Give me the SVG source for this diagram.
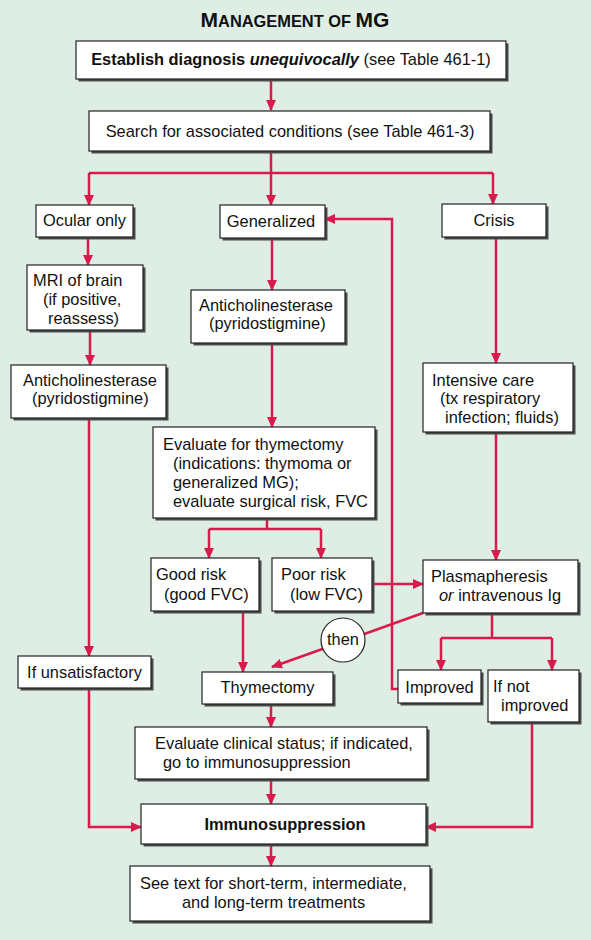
<svg xmlns="http://www.w3.org/2000/svg" width="591" height="940" viewBox="0 0 591 940">
<defs>
<style>
text{font-family:"Liberation Sans",Arial,sans-serif;font-size:16.4px;fill:#111}
.b{font-weight:bold}
.i{font-style:italic}
.m{text-anchor:middle}
.box{fill:#fff;stroke:#222;stroke-width:1.2}
.sh{fill:#4a4a4a}
.c{fill:none;stroke:#d91a4c;stroke-width:2.5}
.a{marker-end:url(#ah)}
</style>
<marker id="ah" markerUnits="userSpaceOnUse" markerWidth="11" markerHeight="10" refX="10" refY="5" orient="auto">
<path d="M0,0 L11,5 L0,10 Z" fill="#d91a4c"/>
</marker>
</defs>
<rect x="0" y="0" width="591" height="940" fill="#dfeee5"/>
<text class="b m" x="295" y="27"><tspan font-size="21">M</tspan><tspan font-size="16.4">ANAGEMENT OF </tspan><tspan font-size="21">MG</tspan></text>

<g id="connectors">
<path class="c a" d="M271,79 V110"/>
<path class="c" d="M271,151 V173 M89,173 H493"/>
<path class="c a" d="M89,173 V205"/>
<path class="c a" d="M271,173 V205"/>
<path class="c a" d="M493,173 V204"/>
<path class="c a" d="M88,237 V265"/>
<path class="c a" d="M90,330 V365"/>
<path class="c a" d="M272,238 V290"/>
<path class="c a" d="M272,343 V427"/>
<path class="c" d="M267,518 V529 M209,529 H321"/>
<path class="c a" d="M209,529 V558"/>
<path class="c a" d="M321,529 V558"/>
<path class="c a" d="M496,237 V363"/>
<path class="c a" d="M496,432 V560"/>
<path class="c a" d="M372,584 H423"/>
<path class="c" d="M492,613 V638 M441,638 H552"/>
<path class="c a" d="M441,638 V670"/>
<path class="c a" d="M552,638 V670"/>
<path class="c a" d="M398,689 H392 V219 H325"/>
<path class="c a" d="M423,613 L272,667"/>
<path class="c a" d="M243,611 V672"/>
<path class="c a" d="M89,418 V656"/>
<path class="c a" d="M271,704 V727"/>
<path class="c a" d="M271,779 V804"/>
<path class="c a" d="M89,688 V827 H141"/>
<path class="c a" d="M532,722 V827 H426"/>
<path class="c a" d="M271,844 V866"/>
</g>

<g id="n_establish">
<rect class="sh" x="78.5" y="43.5" width="430" height="38"/>
<rect class="box" x="76" y="41" width="430" height="38"/>
<text class="m" x="291" y="65"><tspan class="b">Establish diagnosis </tspan><tspan class="b i">unequivocally</tspan> (see Table 461-1)</text>
</g>
<g id="n_search">
<rect class="sh" x="91.5" y="113.5" width="401" height="40"/>
<rect class="box" x="89" y="111" width="401" height="40"/>
<text class="m" x="290" y="137">Search for associated conditions (see Table 461-3)</text>
</g>
<g id="n_ocular">
<rect class="sh" x="38.5" y="207.5" width="97" height="32"/>
<rect class="box" x="36" y="205" width="97" height="32"/>
<text class="m" x="84.5" y="226">Ocular only</text>
</g>
<g id="n_generalized">
<rect class="sh" x="222.5" y="207.5" width="105" height="33"/>
<rect class="box" x="220" y="205" width="105" height="33"/>
<text class="m" x="271" y="227">Generalized</text>
</g>
<g id="n_crisis">
<rect class="sh" x="444.5" y="206.5" width="104" height="33"/>
<rect class="box" x="442" y="204" width="104" height="33"/>
<text class="m" x="494" y="226">Crisis</text>
</g>
<g id="n_mri">
<rect class="sh" x="29.5" y="267.5" width="116" height="65"/>
<rect class="box" x="27" y="265" width="116" height="65"/>
<text x="33" y="286">MRI of brain</text>
<text x="43" y="305">(if positive,</text>
<text x="48" y="324">reassess)</text>
</g>
<g id="n_anti_left">
<rect class="sh" x="13.5" y="367.5" width="155" height="53"/>
<rect class="box" x="11" y="365" width="155" height="53"/>
<text x="23" y="386">Anticholinesterase</text>
<text x="32" y="404">(pyridostigmine)</text>
</g>
<g id="n_anti_mid">
<rect class="sh" x="193.5" y="292.5" width="154" height="53"/>
<rect class="box" x="191" y="290" width="154" height="53"/>
<text x="199" y="311">Anticholinesterase</text>
<text x="209" y="329">(pyridostigmine)</text>
</g>
<g id="n_icu">
<rect class="sh" x="425.5" y="365.5" width="150" height="69"/>
<rect class="box" x="423" y="363" width="150" height="69"/>
<text x="432" y="386">Intensive care</text>
<text x="440" y="404">(tx respiratory</text>
<text x="445" y="423">infection; fluids)</text>
</g>
<g id="n_evalthy">
<rect class="sh" x="155.5" y="429.5" width="222" height="91"/>
<rect class="box" x="153" y="427" width="222" height="91"/>
<text x="163" y="450">Evaluate for thymectomy</text>
<text x="173" y="469">(indications: thymoma or</text>
<text x="173" y="488">generalized MG);</text>
<text x="173" y="507">evaluate surgical risk, FVC</text>
</g>
<g id="n_good">
<rect class="sh" x="153.5" y="560.5" width="108" height="53"/>
<rect class="box" x="151" y="558" width="108" height="53"/>
<text x="156" y="580">Good risk</text>
<text x="164" y="600">(good FVC)</text>
</g>
<g id="n_poor">
<rect class="sh" x="274.5" y="560.5" width="100" height="53"/>
<rect class="box" x="272" y="558" width="100" height="53"/>
<text x="281" y="580">Poor risk</text>
<text x="290" y="600">(low FVC)</text>
</g>
<g id="n_plasma">
<rect class="sh" x="425.5" y="562.5" width="155" height="53"/>
<rect class="box" x="423" y="560" width="155" height="53"/>
<text x="431" y="582">Plasmapheresis</text>
<text x="439" y="601"><tspan class="i">or</tspan> intravenous Ig</text>
</g>
<g id="n_then">
<circle cx="343" cy="640" r="22" fill="#fff" stroke="#222" stroke-width="1.2"/>
<text class="m" x="343" y="645">then</text>
</g>
<g id="n_improved">
<rect class="sh" x="400.5" y="672.5" width="83" height="33"/>
<rect class="box" x="398" y="670" width="83" height="33"/>
<text class="m" x="439.5" y="693">Improved</text>
</g>
<g id="n_notimproved">
<rect class="sh" x="490.5" y="672.5" width="91" height="52"/>
<rect class="box" x="488" y="670" width="91" height="52"/>
<text x="493" y="692">If not</text>
<text x="501" y="711">improved</text>
</g>
<g id="n_thymectomy">
<rect class="sh" x="204.5" y="674.5" width="131" height="32"/>
<rect class="box" x="202" y="672" width="131" height="32"/>
<text class="m" x="267.5" y="693">Thymectomy</text>
</g>
<g id="n_unsat">
<rect class="sh" x="20.5" y="658.5" width="133" height="32"/>
<rect class="box" x="18" y="656" width="133" height="32"/>
<text class="m" x="84.5" y="678">If unsatisfactory</text>
</g>
<g id="n_evalclin">
<rect class="sh" x="137.5" y="729.5" width="292" height="52"/>
<rect class="box" x="135" y="727" width="292" height="52"/>
<text x="155" y="749">Evaluate clinical status; if indicated,</text>
<text x="163" y="768">go to immunosuppression</text>
</g>
<g id="n_immuno">
<rect class="sh" x="143.5" y="806.5" width="285" height="40"/>
<rect class="box" x="141" y="804" width="285" height="40"/>
<text class="b m" x="285" y="830">Immunosuppression</text>
</g>
<g id="n_final">
<rect class="sh" x="132.5" y="868.5" width="300" height="55"/>
<rect class="box" x="130" y="866" width="300" height="55"/>
<text x="140" y="889">See text for short-term, intermediate,</text>
<text x="182" y="908">and long-term treatments</text>
</g>
</svg>
